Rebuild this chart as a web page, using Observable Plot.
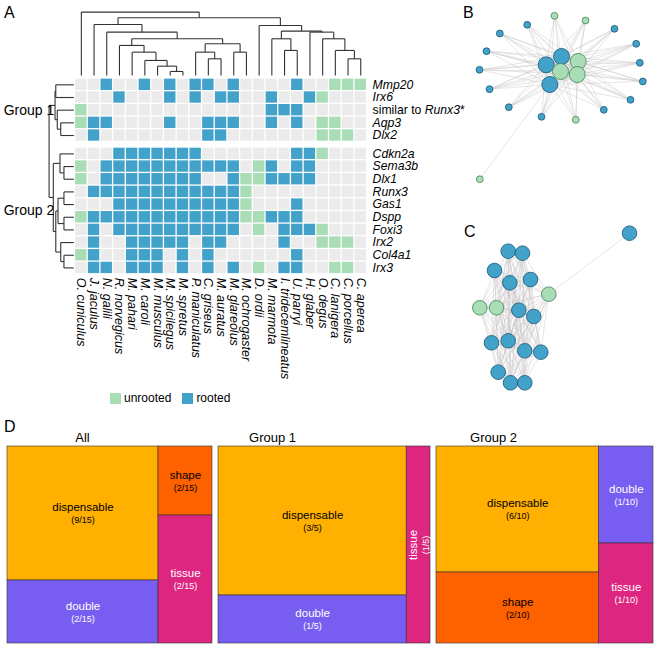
<!DOCTYPE html>
<html><head><meta charset="utf-8">
<script src="https://cdn.jsdelivr.net/npm/d3@7"></script>
<script src="https://cdn.jsdelivr.net/npm/@observablehq/plot@0.6"></script>
<style>
body{margin:0;background:#fff;font-family:"Liberation Sans",Arial,sans-serif;}
#root{position:relative;width:669px;height:646px;overflow:hidden;background:#fff;}
#root > *{position:absolute;}
.letter{font-size:16px;color:#000;}
.leg{font-size:12px;color:#000;display:flex;align-items:center;}
.sw{display:inline-block;width:11px;height:11px;margin-right:3px;}
</style></head><body><div id="root"></div>
<script>
// ---------------- DATA ----------------
const species = ["O. cuniculus","J. jaculus","N. galili","R. norvegicus","M. pahari","M. caroli","M. musculus","M. spicilegus","M. spretus","P. maniculatus","C. griseus","M. auratus","M. glareolus","M. ochrogaster","D. ordii","M. marmota","I. tridecemlineatus","U. parryi","H. glaber","O. degus","C. lanigera","C. porcellus","C. aperea"];
const genes = ["Mmp20","Irx6","similar to Runx3*","Aqp3","Dlx2","Cdkn2a","Sema3b","Dlx1","Runx3","Gas1","Dspp","Foxi3","Irx2","Col4a1","Irx3"];
const geneGroup = [1,1,1,1,1,2,2,2,2,2,2,2,2,2,2];
const groupLabels = ["Group 1","Group 2"];
// per gene, per species: "." absent, "G" unrooted, "B" rooted
const presence = [
"..B..B.B.BB.B....B..GGG",
"...B...B.B.BB..B..BG...",
"G..............BBB.....",
"GBB....B..BBB..B.B.GG..",
".B........BB.......GGG.",
"...BBBBBBB.......BBG...",
"G.BBBBBBBBBBB.GB.BB....",
"G.BBBBBBBB..BGGBBBB....",
".BBBBBBBBBBBBG.........",
"...BBBBBBBBBBG...B.....",
"GBBBBBBBBBBBBGGBBB.....",
".B.BBBBBBBBBB.G.BBBG...",
".B..BBBBB.BB....B..GGG.",
"GB..BBB.B.B......B.....",
".BB.BBB.B.B.B.G.BB..GG."
];
// species dendrogram (h = relative merge height)
const colTree = {h:1.0, c:["O. cuniculus",
  {h:0.91, c:[
    {h:0.805, c:["J. jaculus", {h:0.684, c:["N. galili", {h:0.579, c:[
      {h:0.474, c:["R. norvegicus", {h:0.368, c:["M. pahari", {h:0.237, c:["M. caroli", {h:0.147, c:["M. musculus", {h:0.063, c:["M. spicilegus","M. spretus"]}]}]}]}]},
      {h:0.5, c:[
        {h:0.368, c:["P. maniculatus", {h:0.263, c:["C. griseus","M. auratus"]}]},
        {h:0.368, c:["M. glareolus","M. ochrogaster"]}]}]}]}]},
    {h:0.789, c:["D. ordii", {h:0.7, c:[
      {h:0.579, c:["M. marmota", {h:0.395, c:["I. tridecemlineatus","U. parryi"]}]},
      {h:0.684, c:["H. glaber", {h:0.579, c:["O. degus", {h:0.395, c:["C. lanigera", {h:0.263, c:["C. porcellus","C. aperea"]}]}]}]}]}]}]}]};
// gene dendrogram
const rowTree = {h:1.0, c:[
  {h:0.76, c:[{h:0.73, c:["Mmp20","Irx6"]}, {h:0.67, c:["similar to Runx3*", {h:0.53, c:["Aqp3","Dlx2"]}]}]},
  {h:0.83, c:[
    {h:0.56, c:["Cdkn2a", {h:0.4, c:["Sema3b","Dlx1"]}]},
    {h:0.73, c:[
      {h:0.64, c:[{h:0.4, c:["Runx3","Gas1"]}, {h:0.4, c:["Dspp","Foxi3"]}]},
      {h:0.53, c:["Irx2", {h:0.4, c:["Col4a1","Irx3"]}]}]}]}]};
const statusNames = ["unrooted","rooted"];

// network B (layout coordinates)
const netBx = [80.7,96,84.3,112.7,95,111.7, 61.7,34.3,21,14,24,43.3,76,138.3,165,177.3,174.3,170.7,149, 89,120,110.3,14.3];
const netBy = [64.3,56,84,61,71,74, 24.3,33,50.7,69.3,88.7,106.7,116.3,109.3,99.3,81,62.3,43.3,28.3, 15.3,20,119.3,178.7];
const netBstatus = ["rooted","rooted","rooted","unrooted","unrooted","unrooted","rooted","rooted","rooted","rooted","rooted","rooted","rooted","rooted","rooted","rooted","rooted","rooted","rooted","unrooted","unrooted","unrooted","unrooted"];
const netBhub = [1,1,1,1,1,1,0,0,0,0,0,0,0,0,0,0,0,0,0,0,0,0,0];
const netBlone = [[22,2]];
// network C
const netCx = [42.7,57,29,44.3,65,83.3,14.3,31,53.3,68.3,26,42.7,59.3,75.3,32.7,45,59.3,164];
const netCy = [25.7,27.7,45,57.3,54,68.7,82.3,82.3,84.7,91,117.3,115.3,125.3,126.7,146.7,157.3,157.3,7.7];
const netCstatus = ["rooted","rooted","rooted","rooted","rooted","unrooted","unrooted","unrooted","rooted","rooted","rooted","rooted","rooted","rooted","rooted","rooted","rooted","rooted"];
const netClone = [[17,5]];

// treemaps (panel D)
const tmTitles = ["All","Group 1","Group 2"];
const tmTitleX = [82, 272, 493];
const tmCategory = [["dispensable","double","shape","tissue"],["dispensable","double","tissue"],["dispensable","shape","double","tissue"]];
const tmFraction = [["9/15","2/15","2/15","2/15"],["3/5","1/5","1/5"],["6/10","2/10","1/10","1/10"]];
const tmColumn = [[0,0,1,1],[0,0,1],[0,0,1,1]];
const tmArea = [[20234,9513,3726,6912],[28310,9120,4728],[21042,11857,5432,5600]];

// ---------------- STYLE ----------------
const statusColor = {absent:"#ebebeb", unrooted:"#a8ddb5", rooted:"#43a2ca"};
const statusStroke = {unrooted:"#4f8c62", rooted:"#22607f"};
const catColor = {dispensable:"#FFB000", double:"#785EF0", shape:"#FE6100", tissue:"#DC267F"};
const catText = {dispensable:"#000", double:"#fff", shape:"#000", tissue:"#fff"};
const FONT = "'Liberation Sans', Arial, sans-serif";
const root = document.getElementById("root");

// ---------------- PANEL A ----------------
const rowGap = 0.45;
const rowPos = i => i + (geneGroup[i] === 2 ? rowGap : 0);
const cells = [];
presence.forEach((s, i) => [...s].forEach((ch, j) => cells.push({i, j,
  status: ch === "B" ? "rooted" : ch === "G" ? "unrooted" : "absent"})));

function dendroSegments(tree, leafPos) {
  const segs = [];
  (function walk(n) {
    if (typeof n === "string") return {pos: leafPos(n), h: 0};
    const ch = n.c.map(walk);
    for (const c of ch) segs.push({p1: c.pos, h1: c.h, p2: c.pos, h2: n.h});
    segs.push({p1: ch[0].pos, h1: n.h, p2: ch[ch.length - 1].pos, h2: n.h});
    return {pos: (ch[0].pos + ch[ch.length - 1].pos) / 2, h: n.h};
  })(tree);
  return segs;
}
const colSegs = dendroSegments(colTree, n => species.indexOf(n) + 0.5);
const rowSegs = dendroSegments(rowTree, n => rowPos(genes.indexOf(n)) + 0.5);
const colBase = -0.24, colSpan = 5.0;   // in row units above the grid
const rowBase = -0.09, rowSpan = 1.95;  // in column units left of the grid
const nRowsSpan = rowPos(genes.length - 1) + 1;

const groupMid = groupLabels.map((g, k) => {
  const idx = genes.map((_, i) => i).filter(i => geneGroup[i] === k + 1);
  return {label: g, y: (rowPos(idx[0]) + rowPos(idx[idx.length - 1]) + 1) / 2};
});

const plotA = Plot.plot({
  width: 669, height: 420,
  style: {background: "transparent", fontFamily: FONT, overflow: "visible"},
  x: {domain: [0, species.length], range: [74.5, 74.5 + 12.7 * species.length], axis: null},
  y: {domain: [0, nRowsSpan], range: [78, 78 + 12.67 * nRowsSpan], axis: null},
  color: {type: "identity"},
  marks: [
    Plot.rect(cells, {x1: d => d.j, x2: d => d.j + 1, y1: d => rowPos(d.i), y2: d => rowPos(d.i) + 1,
      fill: d => statusColor[d.status], inset: 0.65}),
    Plot.link(colSegs, {x1: "p1", x2: "p2", y1: d => colBase - d.h1 * colSpan, y2: d => colBase - d.h2 * colSpan,
      stroke: "#333", strokeWidth: 1.1}),
    Plot.link(rowSegs, {x1: d => rowBase - d.h1 * rowSpan, x2: d => rowBase - d.h2 * rowSpan, y1: "p1", y2: "p2",
      stroke: "#333", strokeWidth: 1.1}),
    Plot.text(genes.map((g, i) => ({g, i})), {x: species.length, y: d => rowPos(d.i) + 0.5, text: "g",
      dx: 5.5, textAnchor: "start", fontStyle: "italic", fontSize: 12.2, fill: "#000"}),
    Plot.text(species.map((s, j) => ({s, j})), {x: d => d.j + 0.5, y: nRowsSpan, text: "s",
      dy: 3.5, rotate: 90, textAnchor: "start", fontStyle: "italic", fontSize: 12.5, fill: "#000"}),
    Plot.text(groupMid, {x: -1.63, y: "y", text: "label", textAnchor: "end", fontSize: 14, fill: "#000"})
  ]
});
root.appendChild(plotA);
plotA.style.left = "0px"; plotA.style.top = "0px";
// mixed italics for "similar to Runx3*"
d3.select(plotA).selectAll("text").filter(function() { return this.textContent === genes[2]; })
  .each(function() {
    const t = d3.select(this); t.text("");
    t.append("tspan").attr("font-style", "normal").text("similar to ");
    t.append("tspan").attr("font-style", "italic").text("Runx3");
    t.append("tspan").attr("font-style", "normal").text("*");
  });

// legend
const leg = document.createElement("div");
leg.className = "leg";
leg.style.left = "110px"; leg.style.top = "391px";
leg.innerHTML = statusNames.map((s, k) =>
  `<span class="sw" style="background:${statusColor[s]}"></span><span style="margin-right:${k ? 0 : 11}px">${s}</span>`).join("");
root.appendChild(leg);

// ---------------- NETWORKS ----------------
function network(xs, ys, status, radius, edges, w, h) {
  const nodes = xs.map((x, i) => ({i, x, y: ys[i], s: status[i], r: radius[i]}));
  return Plot.plot({
    width: w, height: h,
    style: {background: "transparent", overflow: "visible"},
    x: {domain: [0, w], range: [0, w], axis: null},
    y: {domain: [0, h], range: [0, h], axis: null},
    r: {type: "identity"}, color: {type: "identity"},
    marks: [
      Plot.link(edges, {x1: d => xs[d[0]], y1: d => ys[d[0]], x2: d => xs[d[1]], y2: d => ys[d[1]],
        stroke: "#c4c0c2", strokeOpacity: 0.75, strokeWidth: 0.55}),
      Plot.dot(nodes.slice().sort((a, b) => a.r - b.r), {x: "x", y: "y", r: "r",
        fill: d => statusColor[d.s], stroke: d => statusStroke[d.s], strokeWidth: 0.9})
    ]
  });
}
// B: hubs fully connected, satellites connected to every hub
const bHubs = netBhub.map((v, i) => v ? i : -1).filter(i => i >= 0);
const bEdges = [];
bHubs.forEach((a, k) => bHubs.slice(k + 1).forEach(b => bEdges.push([a, b])));
netBx.forEach((_, i) => { if (!netBhub[i] && !netBlone.some(e => e[0] === i)) bHubs.forEach(h => bEdges.push([i, h])); });
netBlone.forEach(e => bEdges.push(e));
const plotB = network(netBx, netBy, netBstatus, netBhub.map(v => v ? 8 : 3.4), bEdges, 204, 195);
root.appendChild(plotB); plotB.style.left = "465px"; plotB.style.top = "0px";
// C: cluster fully connected
const cEdges = [];
const cCluster = netCx.map((_, i) => i).filter(i => !netClone.some(e => e[0] === i));
cCluster.forEach((a, k) => cCluster.slice(k + 1).forEach(b => cEdges.push([a, b])));
netClone.forEach(e => cEdges.push(e));
const plotC = network(netCx, netCy, netCstatus, netCx.map(() => 7.3), cEdges, 204, 175);
root.appendChild(plotC); plotC.style.left = "465px"; plotC.style.top = "225px";

// ---------------- PANEL D ----------------
const tmX0 = [7, 218, 436], tmW = [205, 212, 217], tmY0 = 31, tmH = 197;
const tiles = [];
tmTitles.forEach((title, p) => {
  const cols = d3.groups(tmCategory[p].map((c, k) => ({name: c, frac: tmFraction[p][k], value: tmArea[p][k], col: tmColumn[p][k]})), d => d.col);
  const h = d3.hierarchy({children: cols.map(([, items]) => ({children: items}))}).sum(d => d.value || 0);
  d3.treemap().tile(d3.treemapSliceDice).size([tmW[p], tmH]).round(false)(h);
  h.leaves().forEach(l => tiles.push({p, name: l.data.name, frac: l.data.frac,
    x0: tmX0[p] + l.x0, x1: tmX0[p] + l.x1, y0: tmY0 + l.y0, y1: tmY0 + l.y1}));
});
const labelRows = [];
tiles.forEach(t => {
  const cx = (t.x0 + t.x1) / 2, cy = (t.y0 + t.y1) / 2;
  const rot = (t.x1 - t.x0) < 45 && (t.y1 - t.y0) > (t.x1 - t.x0);
  labelRows.push({text: t.name, x: rot ? cx - 5 : cx, y: rot ? cy : cy - 6, rot: rot ? -90 : 0, size: 11.5, c: catText[t.name]});
  labelRows.push({text: `(${t.frac})`, x: rot ? cx + 7 : cx, y: rot ? cy : cy + 7, rot: rot ? -90 : 0, size: 9, c: catText[t.name]});
});
const plotD = Plot.plot({
  width: 669, height: 231,
  style: {background: "transparent", fontFamily: FONT, overflow: "visible"},
  x: {domain: [0, 669], range: [0, 669], axis: null},
  y: {domain: [0, 231], range: [0, 231], axis: null},
  color: {type: "identity"},
  marks: [
    Plot.rect(tiles, {x1: "x0", x2: "x1", y1: "y0", y2: "y1", fill: d => catColor[d.name], stroke: "#333", strokeWidth: 0.6}),
    Plot.text(labelRows.filter(d => d.rot === 0), {x: "x", y: "y", text: "text", fill: "c", fontSize: d => d.size}),
    Plot.text(labelRows.filter(d => d.rot !== 0), {x: "x", y: "y", text: "text", fill: "c", fontSize: d => d.size, rotate: -90}),
    Plot.text(tmTitles.map((t, p) => ({t, x: tmTitleX[p]})), {x: "x", y: 22, text: "t", fontSize: 13, fill: "#000"})
  ]
});
root.appendChild(plotD); plotD.style.left = "0px"; plotD.style.top = "415px";

// panel letters
[["A", 4, 4], ["B", 463, 4], ["C", 464, 223], ["D", 4, 418]].forEach(([t, x, y]) => {
  const d = document.createElement("div"); d.className = "letter"; d.textContent = t;
  d.style.left = x + "px"; d.style.top = y + "px"; root.appendChild(d);
});
</script></body></html>
